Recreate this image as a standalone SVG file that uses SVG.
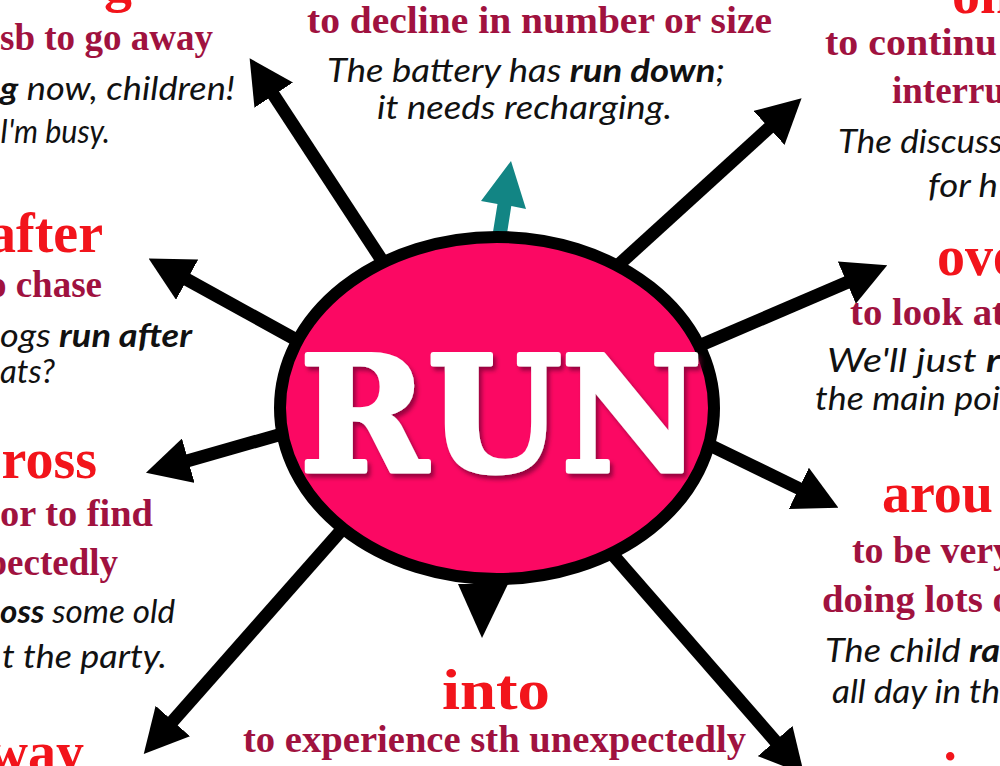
<svg xmlns="http://www.w3.org/2000/svg" width="1000" height="766" viewBox="0 0 1000 766">
<defs>
<style>
.hd{font-family:"Liberation Serif","Times New Roman",serif;font-weight:bold;font-size:56px;fill:#F2141B}
.df{font-family:"Liberation Serif","Times New Roman",serif;font-weight:bold;font-size:37px;fill:#A0123F}
.ex{font-family:Lato,"Open Sans",sans-serif;font-style:italic;font-size:33px;fill:#111}
.b{font-weight:bold}
.arr{stroke:#000;stroke-width:13;fill:none;marker-end:url(#ah)}
</style>
<marker id="ah" viewBox="0 0 10 10" refX="0.3" refY="5" markerWidth="44" markerHeight="46" markerUnits="userSpaceOnUse" orient="auto" preserveAspectRatio="none">
<path d="M0,0 L10,5 L0,10 z" fill="#000"/>
</marker>
<filter id="sh" x="-10%" y="-20%" width="120%" height="140%">
<feDropShadow dx="3" dy="4" stdDeviation="2" flood-color="#6a002e" flood-opacity="0.7"/>
</filter>
</defs>
<rect width="1000" height="766" fill="#fff"/>

<g id="connectors">
<line class="arr" x1="400" y1="288" x2="273" y2="94"/>
<line class="arr" x1="592" y1="289" x2="770" y2="127"/>
<line class="arr" x1="322" y1="354" x2="186" y2="279"/>
<line class="arr" x1="666" y1="360" x2="848" y2="282"/>
<line class="arr" x1="310" y1="426" x2="187" y2="461"/>
<line class="arr" x1="693" y1="437" x2="800" y2="489"/>
<line class="arr" x1="361" y1="508" x2="172" y2="722"/>
<line class="arr" x1="600" y1="540" x2="776" y2="742"/>
<polygon points="458,584 508,584 482,638" fill="#000"/>
<polygon points="492,238 497.5,204 481,201 511,161 526,209 511.3,206 506,240" fill="#128584"/>
</g>

<g id="node-run">
<ellipse cx="497" cy="408" rx="217" ry="171" fill="#FB0863" stroke="#000" stroke-width="12"/>
<text x="501" y="471" text-anchor="middle" font-family="DejaVu Serif, serif" font-weight="bold" font-size="160" fill="#fff" stroke="#fff" stroke-width="5" stroke-linejoin="round" textLength="402" lengthAdjust="spacingAndGlyphs" filter="url(#sh)">RUN</text>
</g>

<g id="node-along">
<text class="hd" x="104" y="1">g</text>
<text class="df" x="0" y="50" textLength="213" lengthAdjust="spacingAndGlyphs">sb to go away</text>
<text class="ex" x="0" y="100" textLength="235" lengthAdjust="spacingAndGlyphs"><tspan class="b">g</tspan> now, children!</text>
<text class="ex" x="0" y="143" textLength="110" lengthAdjust="spacingAndGlyphs">I'm busy.</text>
</g>

<g id="node-down">
<text class="df" x="307" y="33" textLength="465" lengthAdjust="spacingAndGlyphs">to decline in number or size</text>
<text class="ex" x="327" y="82" textLength="398" lengthAdjust="spacingAndGlyphs">The battery has <tspan class="b">run down</tspan>;</text>
<text class="ex" x="377" y="119" textLength="295" lengthAdjust="spacingAndGlyphs">it needs recharging.</text>
</g>

<g id="node-on">
<text class="hd" x="952" y="13">on</text>
<text class="df" x="825" y="55" textLength="172" lengthAdjust="spacingAndGlyphs">to continu</text>
<text class="df" x="892" y="103" textLength="113" lengthAdjust="spacingAndGlyphs">interru</text>
<text class="ex" x="838" y="153" textLength="165" lengthAdjust="spacingAndGlyphs">The discuss</text>
<text class="ex" x="928" y="197" textLength="70" lengthAdjust="spacingAndGlyphs">for h</text>
</g>

<g id="node-after">
<text class="hd" x="103" y="252" text-anchor="end">after</text>
<text class="df" x="102" y="297" text-anchor="end">o chase</text>
<text class="ex" x="0" y="347" textLength="192" lengthAdjust="spacingAndGlyphs">ogs <tspan class="b">run after</tspan></text>
<text class="ex" x="0" y="383" textLength="55" lengthAdjust="spacingAndGlyphs">ats?</text>
</g>

<g id="node-over">
<text class="hd" x="937" y="275">ove</text>
<text class="df" x="850" y="325" textLength="155" lengthAdjust="spacingAndGlyphs">to look at</text>
<text class="ex" x="827" y="372" textLength="173" lengthAdjust="spacingAndGlyphs">We'll just <tspan class="b">r</tspan></text>
<text class="ex" x="815" y="410" textLength="185" lengthAdjust="spacingAndGlyphs">the main poi</text>
</g>

<g id="node-across">
<text class="hd" x="97" y="478" text-anchor="end">ross</text>
<text class="df" x="0" y="526" textLength="153" lengthAdjust="spacingAndGlyphs">or to find</text>
<text class="df" x="118" y="575" text-anchor="end">pectedly</text>
<text class="ex" x="0" y="623" textLength="175" lengthAdjust="spacingAndGlyphs"><tspan class="b">oss</tspan> some old</text>
<text class="ex" x="2" y="668" textLength="165" lengthAdjust="spacingAndGlyphs">t the party.</text>
</g>

<g id="node-around">
<text class="hd" x="882" y="512">arou</text>
<text class="df" x="852" y="563" textLength="160" lengthAdjust="spacingAndGlyphs">to be very</text>
<text class="df" x="822" y="612" textLength="190" lengthAdjust="spacingAndGlyphs">doing lots o</text>
<text class="ex" x="825" y="662" textLength="175" lengthAdjust="spacingAndGlyphs">The child <tspan class="b">ra</tspan></text>
<text class="ex" x="832" y="703" textLength="168" lengthAdjust="spacingAndGlyphs">all day in th</text>
</g>

<g id="node-away">
<text class="hd" x="84" y="771" text-anchor="end">way</text>
</g>

<g id="node-into">
<text class="hd" x="442" y="709" textLength="108" lengthAdjust="spacingAndGlyphs">into</text>
<text class="df" x="243" y="752" textLength="503" lengthAdjust="spacingAndGlyphs">to experience sth unexpectedly</text>
</g>

<g id="node-in">
<text class="hd" x="950" y="792" text-anchor="middle">i</text>
</g>
</svg>
